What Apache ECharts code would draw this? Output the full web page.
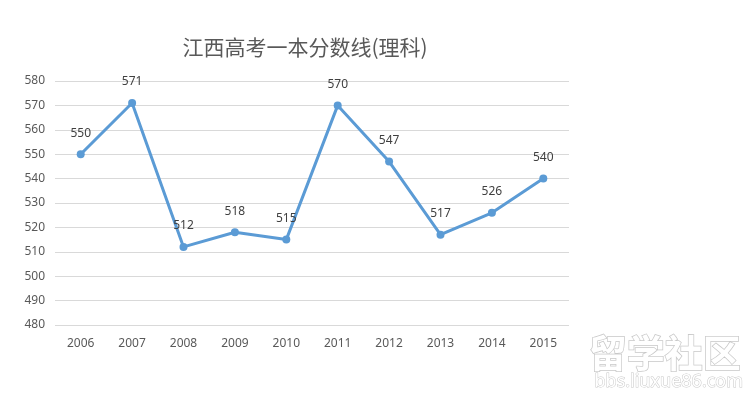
<!DOCTYPE html>
<html><head><meta charset="utf-8">
<script src="https://cdn.jsdelivr.net/npm/echarts@6/dist/echarts.min.js"></script>
<style>html,body{margin:0;padding:0;background:#fff}#c{width:744px;height:395px}</style>
</head><body><div id="c"></div>
<script>
const titleText = '江西高考一本分数线(理科)';
const years = ['2006','2007','2008','2009','2010','2011','2012','2013','2014','2015'];
const scores = [550, 571, 512, 518, 515, 570, 547, 517, 526, 540];
const yMin = 480, yMax = 580, yStep = 10;

const chart = echarts.init(document.getElementById('c'));
chart.setOption({
  backgroundColor: '#fff',
  animation: false,
  title: {
    text: titleText, left: 300, top: 32, textAlign: 'center',
    textStyle: { fontFamily: 'Noto Sans CJK SC', fontSize: 21, fontWeight: 'normal', color: '#595959' }
  },
  grid: { left: 55, right: 175, top: 81, bottom: 70 },
  xAxis: {
    type: 'category', data: years, boundaryGap: true,
    axisLine: { show: false }, axisTick: { show: false },
    axisLabel: { color: '#595959', fontSize: 12, margin: 13, fontFamily: 'Noto Sans' }
  },
  yAxis: {
    type: 'value', min: yMin, max: yMax, interval: yStep,
    axisLine: { show: false }, axisTick: { show: false },
    axisLabel: { color: '#595959', fontSize: 12, margin: 10, fontFamily: 'Noto Sans' },
    splitLine: { lineStyle: { color: '#d9d9d9', width: 1 } }
  },
  series: [{
    type: 'line', data: scores,
    symbol: 'circle', symbolSize: 8,
    lineStyle: { color: '#5b9bd5', width: 3 },
    itemStyle: { color: '#5b9bd5' },
    label: { show: true, position: 'top', distance: 11, color: '#404040', fontSize: 12, fontFamily: 'Noto Sans' }
  }],
  graphic: [
    { type: 'text', left: 588, top: 333, style: { text: '留学社区', fontSize: 38, fontWeight: 'bold', fontFamily: 'Noto Sans CJK SC', fill: '#ffffff', stroke: '#c8c8c8', lineWidth: 1.5 } },
    { type: 'text', left: 594, top: 372, style: { text: 'bbs.liuxue86.com', fontSize: 18, fontFamily: 'Noto Sans', fill: '#ffffff', stroke: '#c8c8c8', lineWidth: 1 } }
  ]
});
</script></body></html>
